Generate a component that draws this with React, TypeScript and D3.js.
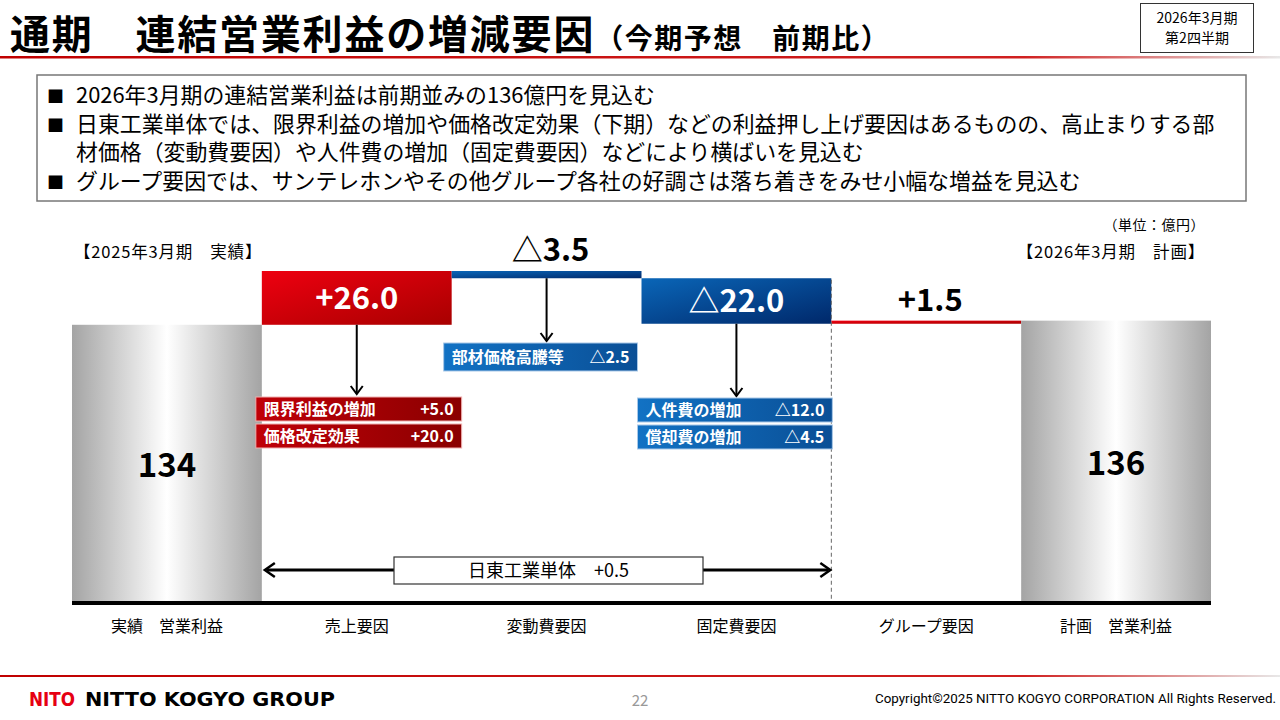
import React from 'react';
import * as d3 from 'd3';

// waterfall data (億円)
const categories = ['実績　営業利益', '売上要因', '変動費要因', '固定費要因', 'グループ要因', '計画　営業利益'];
const stepValues = [134, 26.0, -3.5, -22.0, 1.5, 136];
const stepKinds = ['total', 'up', 'down', 'down', 'up', 'total'];
const valueLabels = ['134', '+26.0', '△3.5', '△22.0', '+1.5', '136'];

// breakdown callouts
const salesItems = [['限界利益の増加', '+5.0'], ['価格改定効果', '+20.0']];
const variableItems = [['部材価格高騰等', '△2.5']];
const fixedItems = [['人件費の増加', '△12.0'], ['償却費の増加', '△4.5']];
const standaloneLabel = '日東工業単体　+0.5';

const bullets = [
  ['2026年3月期の連結営業利益は前期並みの136億円を見込む'],
  ['日東工業単体では、限界利益の増加や価格改定効果（下期）などの利益押し上げ要因はあるものの、高止まりする部', '材価格（変動費要因）や人件費の増加（固定費要因）などにより横ばいを見込む'],
  ['グループ要因では、サンテレホンやその他グループ各社の好調さは落ち着きをみせ小幅な増益を見込む'],
];

const JP = '"Noto Sans CJK JP", "Noto Sans", sans-serif';

export default function App() {
  const x = d3.scaleBand<string>().domain(categories).range([72, 1211]).padding(0);
  const y = d3.scaleLinear().domain([0, 160]).range([602, 271]);
  const bw = x.bandwidth();

  // waterfall steps
  let running = 0;
  const steps = categories.map((c, i) => {
    const kind = stepKinds[i];
    let lo: number, hi: number;
    if (kind === 'total') {
      lo = 0;
      hi = stepValues[i];
      running = stepValues[i];
    } else {
      const next = running + stepValues[i];
      lo = Math.min(running, next);
      hi = Math.max(running, next);
      running = next;
    }
    return { c, kind, lo, hi, label: valueLabels[i], x0: x(c)!, cx: x(c)! + bw / 2 };
  });

  const fillFor = (k: string) => (k === 'total' ? 'url(#gGrey)' : k === 'up' ? 'url(#gRed)' : 'url(#gBlue)');

  const sales = steps[1];
  const vari = steps[2];
  const fixed = steps[3];

  const calloutBoxes = (
    items: string[][],
    x0: number,
    w: number,
    top: number,
    h: number,
    fill: string,
    stroke: string,
  ) =>
    items.map(([name, val], i) => (
      <g key={name}>
        <rect x={x0} y={top + i * (h + 3)} width={w} height={h} fill={fill} stroke={stroke} strokeWidth={1} />
        <text x={x0 + 8} y={top + i * (h + 3) + h / 2 + 6} fill="#fff" fontSize={16} fontWeight="bold" fontFamily={JP}>
          {name}
        </text>
        <text x={x0 + w - 8} y={top + i * (h + 3) + h / 2 + 6} fill="#fff" fontSize={16} fontWeight="bold" fontFamily={JP} textAnchor="end">
          {val}
        </text>
      </g>
    ));

  const arrow = (cx: number, y0: number, y1: number) => (
    <g>
      <line x1={cx} x2={cx} y1={y0} y2={y1} stroke="#000" strokeWidth={2} />
      <path d={`M${cx - 6},${y1 - 8} L${cx},${y1} L${cx + 6},${y1 - 8}`} fill="none" stroke="#000" strokeWidth={2} />
    </g>
  );

  const arrowL = sales.x0 + 3;
  const arrowR = fixed.x0 + bw - 1;
  const boxX = 394;
  const boxW = 309;

  return (
    <div style={{ position: 'absolute', left: 0, top: 0 }}>
      <svg width={1280} height={720} style={{ display: 'block', background: '#fff' }}>
        <defs>
          <linearGradient id="gGrey" x1="0" x2="1" y1="0" y2="0">
            <stop offset="0" stopColor="#a4a4a4" />
            <stop offset="0.5" stopColor="#ffffff" />
            <stop offset="1" stopColor="#a4a4a4" />
          </linearGradient>
          <linearGradient id="gRed" x1="0" x2="1" y1="0" y2="1">
            <stop offset="0" stopColor="#ee0010" />
            <stop offset="1" stopColor="#a80000" />
          </linearGradient>
          <linearGradient id="gBlue" x1="0" x2="1" y1="0" y2="1">
            <stop offset="0" stopColor="#0a66b8" />
            <stop offset="1" stopColor="#00286a" />
          </linearGradient>
          <linearGradient id="gBoxRed" x1="0" x2="1" y1="0" y2="0">
            <stop offset="0" stopColor="#c00008" />
            <stop offset="1" stopColor="#8a0000" />
          </linearGradient>
          <linearGradient id="gBoxBlue" x1="0" x2="1" y1="0" y2="0">
            <stop offset="0" stopColor="#1272c4" />
            <stop offset="1" stopColor="#0a4f96" />
          </linearGradient>
          <linearGradient id="gRule" x1="0" x2="1" y1="0" y2="0">
            <stop offset="0" stopColor="#c00000" />
            <stop offset="0.8" stopColor="#d02020" />
            <stop offset="1" stopColor="#e8e8e8" />
          </linearGradient>
        </defs>

        {/* header */}
        <text x={10} y={49} fontSize={40} fontWeight="bold" fontFamily={JP} fill="#000" letterSpacing={1.8}>
          通期　連結営業利益の増減要因
          <tspan fontSize={28} letterSpacing={1.5}>（今期予想　前期比）</tspan>
        </text>
        <rect x={0} y={56} width={1280} height={2.5} fill="url(#gRule)" />
        <rect x={1140.5} y={3.5} width={113} height={49} fill="#fff" stroke="#333" strokeWidth={1} />
        <text x={1197} y={23} fontSize={14} textAnchor="middle" fontFamily={JP}>2026年3月期</text>
        <text x={1197} y={43} fontSize={14} textAnchor="middle" fontFamily={JP}>第2四半期</text>

        {/* bullet box */}
        <rect x={37} y={75} width={1209} height={126} fill="#fff" stroke="#777" strokeWidth={1.5} />
        {(() => {
          let line = 0;
          return bullets.map((b, i) => {
            const rows = b.map((t, j) => {
              const yy = 103 + line * 28.5;
              line += 1;
              return (
                <g key={j}>
                  {j === 0 && (
                    <text x={47} y={yy} fontSize={17} fontFamily={JP}>■</text>
                  )}
                  <text x={76} y={yy} fontSize={21.9} fontFamily={JP}>{t}</text>
                </g>
              );
            });
            return <g key={i}>{rows}</g>;
          });
        })()}

        {/* chart annotations */}
        <text x={1205} y={230} fontSize={14} textAnchor="end" fontFamily={JP} letterSpacing={0.5}>（単位：億円）</text>
        <text x={74} y={258} fontSize={16.5} fontFamily={JP} letterSpacing={0.8}>【2025年3月期　実績】</text>
        <text x={1205} y={258} fontSize={16.5} textAnchor="end" fontFamily={JP} letterSpacing={0.8}>【2026年3月期　計画】</text>

        {/* bars */}
        {steps.map((s) => (
          <rect key={s.c} x={s.x0} y={y(s.hi)} width={bw} height={y(s.lo) - y(s.hi)} fill={fillFor(s.kind)} />
        ))}

        {/* dashed separator */}
        <line x1={fixed.x0 + bw} x2={fixed.x0 + bw} y1={y(fixed.lo) - 44} y2={y(0)} stroke="#666" strokeWidth={1} strokeDasharray="4,3" />

        {/* value labels */}
        {steps.map((s) => {
          const h = y(s.lo) - y(s.hi);
          if (s.kind === 'total') {
            return (
              <text key={s.c} x={s.cx} y={(y(s.lo) + y(s.hi)) / 2 + 14} fontSize={33} fontWeight="bold" textAnchor="middle" fontFamily={JP}>
                {s.label}
              </text>
            );
          }
          if (h > 30) {
            return (
              <text key={s.c} x={s.cx} y={(y(s.lo) + y(s.hi)) / 2 + 11} fontSize={31} fontWeight="bold" fill="#fff" textAnchor="middle" fontFamily={JP}>
                {s.label}
              </text>
            );
          }
          return (
            <text key={s.c} x={s.cx + 4} y={y(s.hi) - 10} fontSize={31} fontWeight="bold" fill="#000" textAnchor="middle" fontFamily={JP}>
              {s.label}
            </text>
          );
        })}

        {/* callouts */}
        {arrow(sales.cx, y(sales.lo), 394)}
        {calloutBoxes(salesItems, sales.x0 - 6, bw + 16, 397, 24, 'url(#gBoxRed)', '#f0b0b0')}
        {arrow(vari.cx, y(vari.lo), 341)}
        {calloutBoxes(variableItems, vari.x0 - 8, bw + 4, 343, 28, 'url(#gBoxBlue)', '#a8c8e8')}
        {arrow(fixed.cx, y(fixed.lo), 396)}
        {calloutBoxes(fixedItems, fixed.x0 - 4, bw + 5, 398, 24, 'url(#gBoxBlue)', '#a8c8e8')}

        {/* standalone double arrow */}
        <line x1={arrowL + 2} x2={boxX} y1={570} y2={570} stroke="#000" strokeWidth={3} />
        <line x1={boxX + boxW} x2={arrowR - 2} y1={570} y2={570} stroke="#000" strokeWidth={3} />
        <path d={`M${arrowL + 10},${563} L${arrowL},${570} L${arrowL + 10},${577}`} fill="none" stroke="#000" strokeWidth={2.5} />
        <path d={`M${arrowR - 10},${563} L${arrowR},${570} L${arrowR - 10},${577}`} fill="none" stroke="#000" strokeWidth={2.5} />
        <rect x={boxX} y={557} width={boxW} height={27} fill="#fff" stroke="#333" strokeWidth={1.2} />
        <text x={boxX + boxW / 2} y={577} fontSize={18} textAnchor="middle" fontFamily={JP}>{standaloneLabel}</text>

        {/* baseline and categories */}
        <line x1={72} x2={1211} y1={y(0) + 1} y2={y(0) + 1} stroke="#000" strokeWidth={4} />
        {steps.map((s) => (
          <text key={s.c} x={s.cx} y={632} fontSize={16} textAnchor="middle" fontFamily={JP}>{s.c}</text>
        ))}

        {/* footer */}
        <rect x={0} y={675} width={1280} height={2} fill="url(#gRule)" />
        <text x={29} y={706} fontSize={19} fontWeight="bold" fill="#e60012" fontFamily='"DejaVu Sans", sans-serif' textLength={46} lengthAdjust="spacingAndGlyphs">NITO</text>
        <text x={85} y={706} fontSize={19} fontWeight="bold" fill="#000" fontFamily='"DejaVu Sans", sans-serif' textLength={250} lengthAdjust="spacingAndGlyphs">NITTO KOGYO GROUP</text>
        <text x={640} y={706} fontSize={15} fill="#999" textAnchor="middle" fontFamily={JP}>22</text>
        <text x={1276} y={703} fontSize={12} textAnchor="end" fontFamily='"Liberation Sans Narrow", "Roboto", sans-serif' textLength={401} lengthAdjust="spacingAndGlyphs">Copyright©2025 NITTO KOGYO CORPORATION All Rights Reserved.</text>
      </svg>
    </div>
  );
}
